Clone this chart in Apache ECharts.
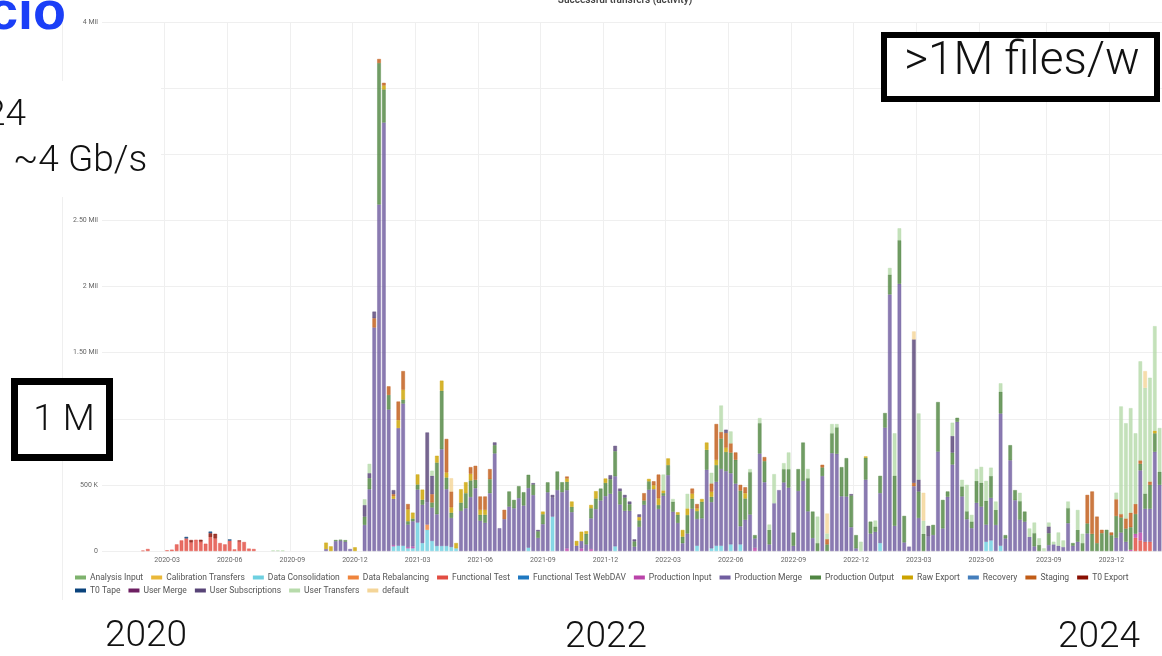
<!DOCTYPE html>
<html><head><meta charset="utf-8">
<script src="https://cdn.jsdelivr.net/npm/echarts@6/dist/echarts.min.js"></script>
<style>html,body{margin:0;padding:0;background:#fff;overflow:hidden}#c{width:1162px;height:656px}</style>
</head><body><div id="c"></div><script>
// ---- weekly categories (Mondays) ----
const firstWeek = '2019-12-02';
const weekCount = 220;
const tickLabels = ['2020-03','2020-06','2020-09','2020-12','2021-03','2021-06','2021-09','2021-12',
  '2022-03','2022-06','2022-09','2022-12','2023-03','2023-06','2023-09','2023-12'];
const yTicks = ['0','500 K','1 Mil','1.50 Mil','2 Mil','2.50 Mil','3 Mil','3.50 Mil','4 Mil'];

// ---- values in thousands of files per week ----
const functionalTest = [
 0,0,0,0,0,0,0,0,3,15, 0,0,0,5,10,50,80,95,65,85, 70,55,105,95,60,50,78,12,72,68,
 18,15,0,0,0,0,0,0,0,0, 0,0,0,0,0,0,0,0,0,0, 0,0,0,0,0,0,0,0,0,0,
 0,0,0,0,0,0,0,0,0,0, 0,0,0,0,0,0,0,0,0,0, 0,0,0,0,0,0,0,0,0,0,
 0,0,0,0,0,0,0,0,0,0, 0,0,0,0,0,0,0,0,0,0, 0,0,0,0,0,0,0,0,0,0,
 0,0,0,0,0,0,0,0,0,0, 0,0,0,0,0,0,0,0,0,0, 0,0,0,0,0,0,0,0,0,0,
 0,0,0,0,0,0,0,0,0,0, 0,0,0,0,0,0,0,0,0,0, 0,0,0,0,0,0,0,0,0,0,
 0,0,0,0,0,0,0,0,0,0, 0,0,0,0,0,0,0,0,0,0, 0,0,0,0,0,0,0,0,0,0,
 0,0,0,0,100,80,70,70,0,0
];
const t0Export = [
 0,0,0,0,0,0,0,0,0,0, 0,0,0,0,0,0,0,0,18,0, 15,0,30,35,0,0,0,0,8,0
];
const t0Tape = [
 0,0,0,0,0,0,0,0,0,0, 0,0,0,0,0,0,0,12,0,0, 0,0,12,0,0,0,10,0,0,0
];
const productionMerge = [
 0,0,0,0,0,0,0,0,0,0,
 0,0,0,0,0,0,0,0,0,0,
 0,0,0,0,0,0,0,0,0,0,
 0,0,0,0,0,0,0,0,0,0,
 0,0,0,0,0,0,15,0,75,80,
 70,15,0,0,197,467,1690,2620,3240,1070,
 350,890,1075,170,190,250,290,170,253,240,
 732,430,220,0,303,323,408,475,229,214,
 437,738,172,241,336,323,400,344,451,423,
 99,203,444,144,461,445,440,294,41,56,
 50,232,317,382,415,433,530,352,304,304,
 33,182,349,464,467,318,418,574,297,212,
 59,132,320,202,247,615,350,484,580,604,
 538,510,137,237,276,70,737,520,50,361,
 460,519,479,39,454,530,300,98,0,567,
 0,740,735,414,412,180,20,0,540,132,
 145,378,933,1940,190,2020,65,33,490,250,
 0,110,121,752,171,410,654,977,413,240,
 173,365,336,130,322,197,1000,95,686,384,
 237,222,107,35,0,0,45,50,40,30,
 210,40,70,0,133,0,0,0,0,0,
 100,140,70,0,0,470,250,250,750,500
];
const productionOutput = [
 0,0,0,0,0,0,0,0,0,0,
 0,0,0,0,0,0,0,0,0,0,
 0,0,0,0,0,0,0,0,0,0,
 0,0,0,0,0,0,0,0,0,0,
 0,0,0,0,0,0,0,0,8,5,
 12,0,0,0,63,84,0,1070,250,110,
 0,0,30,25,20,38,38,0,38,391,
 442,88,40,0,63,114,126,63,45,60,
 106,63,0,0,114,63,90,100,100,80,
 50,75,75,0,140,75,63,40,0,0,
 80,76,80,90,100,110,190,100,100,50,
 40,50,33,63,0,30,20,76,76,63,
 50,140,76,60,126,150,40,126,230,145,
 156,180,270,160,320,25,230,160,110,0,
 0,100,140,100,165,290,250,200,60,65,
 50,150,200,220,290,240,100,0,165,90,
 40,130,110,150,380,330,200,0,0,200,
 130,0,76,374,215,40,90,30,75,60,
 50,165,180,180,165,114,165,25,114,76,
 140,76,0,100,46,0,90,0,0,0,
 114,20,90,60,76,130,60,135,160,120,
 165,114,100,170,150,50,114,180,140,100
];
const dataConsolidation = [
 0,0,0,0,0,0,0,0,0,0, 0,0,0,0,0,0,0,0,0,0, 0,0,0,0,0,0,0,0,0,0,
 0,0,0,0,0,0,0,0,0,0, 0,0,0,0,0,0,0,0,0,0, 0,0,0,0,0,0,0,0,0,0,
 35,40,40,20,20,215,60,160,76,38,
 38,38,30,20,0,0,0,0,0,0,
 0,0,0,0,0,0,0,0,25,0,
 0,0,0,260,0,0,0,0,0,0,
 0,0,0,0,0,0,35,0,0,0,
 0,0,0,0,0,0,0,0,0,0,
 0,0,0,40,0,0,20,40,40,0,
 50,0,50,0,0,0,0,0,0,0,
 0,0,0,0,0,0,0,0,0,0,
 0,0,0,0,0,0,0,0,0,0,
 0,60,0,0,0,0,0,0,0,0,
 0,0,0,0,0,0,0,0,0,0,
 0,0,0,70,80,0,40,0,0,0
];
const dataRebalancing = [
 0,0,0,0,0,0,0,0,0,0, 0,0,0,0,0,0,0,0,0,0, 0,0,0,0,0,0,0,0,0,0,
 0,0,0,0,0,0,0,0,0,0, 0,0,0,0,0,0,0,0,0,0, 0,0,0,0,0,0,0,0,0,0,
 0,0,0,0,0,0,0,40,0,0
];
const productionInput = [
 0,0,0,0,0,0,0,0,0,0, 0,0,0,0,0,0,0,0,0,0, 0,0,0,0,0,0,0,0,0,0,
 0,0,0,0,0,0,0,0,0,0, 0,0,0,0,0,0,0,0,0,0, 0,0,0,0,0,0,0,0,0,0,
 10,0,0,10,15,0,0,0,0,0,
 0,0,0,0,0,0,0,0,0,0,
 0,0,0,0,0,0,0,0,0,0,
 0,0,0,0,0,0,20,0,0,20,
 0,15,0,0,0,0,0,0,0,0,
 0,0,0,0,0,0,0,0,0,0,
 0,0,0,0,0,0,0,0,0,0,
 0,0,0,0,0,25,0,0,0,0,
 0,0,0,0,0,0,0,0,0,0, 0,0,0,0,0,0,0,0,0,0, 0,0,0,0,0,0,0,0,0,0,
 0,0,0,0,0,0,0,0,0,0, 0,0,0,0,0,0,0,0,0,0, 0,0,0,0,0,0,0,0,0,0,
 0,0,0,0,0,0,0,0,0,0,
 0,0,0,10,30,60,0,0,0,0
];
const rawExport = [
 0,0,0,0,0,0,0,0,0,0, 0,0,0,0,0,0,0,0,0,0, 0,0,0,0,0,0,0,0,0,0,
 0,0,0,0,0,0,0,0,0,0,
 0,0,0,0,0,0,48,35,0,0,
 0,0,28,0,0,0,0,0,30,0,
 20,60,75,90,45,76,76,0,0,51,
 76,38,40,40,101,83,50,0,38,38,
 0,0,0,0,0,0,0,0,0,0,
 0,20,0,0,0,0,25,40,35,70,
 20,25,55,0,33,0,0,0,0,0,
 0,25,0,18,30,50,20,50,0,18,
 50,50,38,20,20,55,38,40,0,33,
 0,0,0,40,0,0,0,0,0,0,
 0,0,0,0,0,0,0,0,0,0,
 0,0,0,0,0,0,0,0,10,0,
 0,0,0,0,0,0,0,0,0,0, 0,0,0,0,0,0,0,0,0,0, 0,0,0,0,0,0,0,0,0,0,
 0,0,0,0,0,0,0,0,0,0, 0,0,0,0,0,0,0,0,0,0,
 0,0,0,0,0,0,0,0,20,0
];
const staging = [
 0,0,0,0,0,0,0,0,0,0, 0,0,0,0,0,0,0,0,0,0, 0,0,0,0,0,0,0,0,0,0,
 0,0,0,0,0,0,0,0,0,0, 0,0,0,0,0,0,0,0,0,0,
 0,0,0,0,0,0,70,30,20,65,
 15,140,140,40,0,0,0,0,63,0,
 0,253,120,0,0,0,50,106,100,100,
 76,0,0,70,0,0,0,0,0,0,
 0,0,0,0,0,0,15,0,0,0,
 0,0,0,0,0,0,0,0,0,0,
 0,0,55,0,30,180,0,0,0,0,
 0,0,38,33,0,0,63,270,50,110,
 70,55,43,45,0,0,0,30,0,0,
 0,0,0,0,0,0,0,0,0,20,
 40,0,0,0,0,0,0,0,0,0,
 0,0,0,0,0,0,0,0,25,0,
 0,0,0,0,0,0,0,0,0,0, 0,0,0,0,0,0,0,0,0,0, 0,0,0,0,0,0,0,0,0,0,
 0,0,0,0,215,320,200,25,0,20,
 126,25,76,110,76,25,0,25,0,0
];
const userSubscriptions = [
 0,0,0,0,0,0,0,0,0,0, 0,0,0,0,0,0,0,0,0,0, 0,0,0,0,0,0,0,0,0,0,
 0,0,0,0,0,0,0,0,0,0, 0,0,0,0,0,0,0,0,0,0,
 0,0,0,0,88,38,50,0,0,0,
 30,0,0,0,0,0,0,526,139,0,
 0,0,0,0,0,0,0,0,0,0,
 0,20,0,0,0,0,0,0,0,10,
 10,0,0,20,0,0,0,0,0,0,
 0,0,0,0,0,30,40,20,20,20,
 15,20,0,0,0,0,0,0,0,0,
 0,0,0,0,0,0,0,0,0,25,
 0,0,0,0,0,0,0,0,0,0,
 0,0,0,0,0,0,0,0,0,0,
 0,0,0,0,0,10,0,0,0,0,
 0,0,0,0,0,0,0,0,1085,90,
 0,80,0,0,0,0,126,0,0,0,
 0,0,0,0,0,0,0,0,0,0,
 0,0,0,0,0,0,50,0,0,0
];
const userTransfers = [
 0,0,0,0,0,0,0,0,0,0, 0,0,0,0,0,0,0,0,0,0, 0,0,0,0,0,0,0,0,0,0,
 0,0,0,0,0,4,4,4,0,0,
 0,0,0,0,0,0,0,0,0,0,
 0,0,0,0,43,70,0,0,0,0,
 0,0,0,0,0,0,0,0,38,0,
 0,0,0,0,0,0,0,0,0,0, 0,0,0,0,0,0,0,0,0,0, 0,0,0,0,0,0,0,0,0,0,
 0,0,0,0,0,0,0,0,0,0,
 0,0,0,0,0,0,120,0,20,0,
 0,110,0,0,0,0,80,0,200,0,
 90,0,0,0,23,0,38,0,40,220,
 0,45,126,0,0,0,70,0,200,0,
 43,70,25,0,0,0,0,70,0,0,
 45,0,0,50,320,90,0,0,0,500,
 100,0,0,0,0,0,100,0,50,200,
 50,90,120,150,63,63,63,0,0,0,
 63,0,63,80,50,20,30,20,100,50,
 50,0,150,70,0,0,0,0,0,0,
 50,814,720,790,534,749,800,785,790,330
];
const defaultActivity = [
 0,0,0,0,0,0,0,0,0,0, 0,0,0,0,0,0,0,0,0,0, 0,0,0,0,0,0,0,0,0,0,
 0,0,0,0,0,0,0,0,0,0, 0,0,0,0,0,0,0,0,0,0, 0,0,0,0,0,0,0,0,0,0,
 0,0,0,0,0,0,0,0,0,0,
 0,0,100,0,0,0,0,0,0,0,
 0,0,0,0,0,0,0,0,0,0, 0,0,0,0,0,0,0,0,0,0, 0,0,0,0,0,0,0,0,0,0,
 0,0,0,0,0,0,0,0,0,0, 0,0,0,0,0,0,0,0,0,0, 0,0,0,0,0,0,0,0,0,0,
 0,0,0,0,0,0,0,0,0,0,
 150,0,0,0,0,0,0,0,0,0,
 0,0,0,0,0,0,0,0,60,0,
 210,0,0,0,0,0,0,0,0,0,
 0,0,0,0,0,0,0,0,0,0, 0,0,0,0,0,0,0,0,0,0, 0,0,0,0,0,0,0,0,0,0,
 0,0,0,0,0,0,126,0,0,0
];

const activityNames = ['Analysis Input','Calibration Transfers','Data Consolidation','Data Rebalancing',
  'Functional Test','Functional Test WebDAV','Production Input','Production Merge','Production Output',
  'Raw Export','Recovery','Staging','T0 Export','T0 Tape','User Merge','User Subscriptions',
  'User Transfers','default'];
const activityColors = ['#7EB26D','#EAB839','#6ED0E0','#EF843C','#E24D42','#1F78C1','#BA43A9','#705DA0',
  '#508642','#CCA300','#447EBC','#C15C17','#890F02','#0A437C','#6D1F62','#584477','#B7DBAB','#F4D598'];
const activityValues = [[],[],dataConsolidation,dataRebalancing,functionalTest,[],productionInput,
  productionMerge,productionOutput,rawExport,[],staging,t0Export,t0Tape,[],userSubscriptions,
  userTransfers,defaultActivity];

// ---- build categories / tick positions ----
const DAY = 86400000;
const start = Date.parse(firstWeek + 'T00:00:00Z');
const weeks = [];
for (let i = 0; i < weekCount; i++) weeks.push(new Date(start + i * 7 * DAY).toISOString().slice(0, 10));
const tickAt = {};
tickLabels.forEach(t => {
  const m = Date.UTC(+t.slice(0, 4), +t.slice(5, 7) - 1, 1);
  tickAt[Math.round((m - start) / (7 * DAY))] = t;
});
const isTick = (idx) => tickAt.hasOwnProperty(idx);

function rgba(hex, a) {
  const n = parseInt(hex.slice(1), 16);
  return 'rgba(' + (n >> 16) + ',' + ((n >> 8) & 255) + ',' + (n & 255) + ',' + a + ')';
}

const series = activityNames.map((name, k) => ({
  name, type: 'bar', stack: 'total', barWidth: '74%',
  data: weeks.map((w, i) => { const v = activityValues[k][i]; return v ? v * 1000 : '-'; }),
  itemStyle: { color: rgba(activityColors[k], 0.82), borderColor: activityColors[k], borderWidth: 0.4 },
  emphasis: { disabled: true }
}));

const legendText = { fontSize: 8.5, color: '#555', fontFamily: 'Roboto' };
const slideFont = '300 37px Roboto';

const chart = echarts.init(document.getElementById('c'), null, { renderer: 'canvas' });
chart.setOption({
  animation: false,
  color: activityColors,
  grid: { left: 102, right: -3, top: 22, bottom: 105, containLabel: false },
  xAxis: {
    type: 'category', data: weeks, boundaryGap: true,
    axisLine: { show: false }, axisTick: { show: false },
    axisLabel: { interval: (i) => isTick(i), formatter: (v, i) => tickAt[i] || '', fontSize: 7, color: '#666', margin: 6, fontFamily: 'Roboto' },
    splitLine: { show: true, interval: (i) => isTick(i), lineStyle: { color: '#efefef', width: 1 } }
  },
  yAxis: {
    type: 'value', min: 0, max: 4000000, interval: 500000,
    axisLine: { show: false }, axisTick: { show: false },
    axisLabel: { formatter: (v) => yTicks[Math.round(v / 500000)], fontSize: 7, color: '#666', margin: 4, fontFamily: 'Roboto' },
    splitLine: { lineStyle: { color: '#efefef', width: 1 } }
  },
  legend: [
    { data: activityNames.slice(0, 13), left: 75, top: 573, icon: 'rect', itemWidth: 9, itemHeight: 2, itemGap: 8, padding: 0, textStyle: legendText },
    { data: activityNames.slice(13), left: 75, top: 586, icon: 'rect', itemWidth: 9, itemHeight: 2, itemGap: 8, padding: 0, textStyle: legendText }
  ],
  series,
  graphic: [
    { type: 'line', z: 1, shape: { x1: 62.5, y1: 18, x2: 62.5, y2: 600 }, style: { stroke: '#efefef', lineWidth: 1 } },
    { type: 'text', z: 100, x: 625, y: 0, style: { text: 'Successful transfers (activity)', font: '600 10px Roboto', fill: '#444', align: 'center', verticalAlign: 'middle' } },
    { type: 'rect', z: 100, shape: { x: 0, y: 81, width: 161, height: 116 }, style: { fill: '#fff' } },
    { type: 'text', z: 101, x: 66, y: 41, style: { text: 'Rucio', font: 'bold 54px "Liberation Sans"', fill: '#1b3ff7', align: 'right', verticalAlign: 'bottom' } },
    { type: 'text', z: 101, x: 26, y: 116, style: { text: '24', font: slideFont, fill: '#111', align: 'right', verticalAlign: 'middle' } },
    { type: 'text', z: 101, x: 13, y: 162, style: { text: '~4 Gb/s', font: slideFont, fill: '#111', align: 'left', verticalAlign: 'middle' } },
    { type: 'rect', z: 100, shape: { x: 14.5, y: 381.5, width: 95, height: 76 }, style: { fill: '#fff', stroke: '#000', lineWidth: 7 } },
    { type: 'text', z: 101, x: 64, y: 421, style: { text: '1 M', font: slideFont, fill: '#111', align: 'center', verticalAlign: 'middle' } },
    { type: 'rect', z: 100, shape: { x: 884, y: 35, width: 273, height: 64 }, style: { fill: '#fff', stroke: '#000', lineWidth: 6 } },
    { type: 'text', z: 101, x: 1022, y: 62, style: { text: '>1M files/w', font: '300 46px Roboto', fill: '#111', align: 'center', verticalAlign: 'middle' } },
    { type: 'text', z: 101, x: 146, y: 637, style: { text: '2020', font: slideFont, fill: '#111', align: 'center', verticalAlign: 'middle' } },
    { type: 'text', z: 101, x: 606, y: 638, style: { text: '2022', font: slideFont, fill: '#111', align: 'center', verticalAlign: 'middle' } },
    { type: 'text', z: 101, x: 1099, y: 638, style: { text: '2024', font: slideFont, fill: '#111', align: 'center', verticalAlign: 'middle' } }
  ]
});
</script></body></html>
